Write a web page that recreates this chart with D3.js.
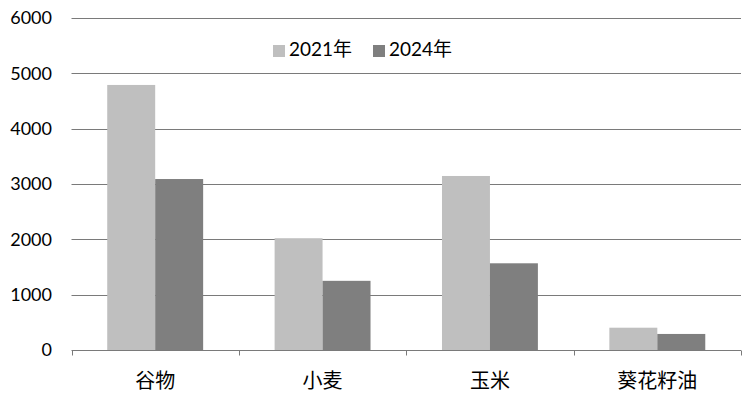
<!DOCTYPE html>
<html><head><meta charset="utf-8">
<script src="https://cdn.jsdelivr.net/npm/d3@7"></script>
<style>body{margin:0;background:#fff}</style>
</head><body>
<svg id="c" width="751" height="400"></svg>
<script>
const categories = ["谷物", "小麦", "玉米", "葵花籽油"];
const seriesNames = ["2021年", "2024年"];
const values2021 = [4790, 2020, 3145, 403];
const values2024 = [3090, 1250, 1567, 290];
const yTicks = [0, 1000, 2000, 3000, 4000, 5000, 6000];
const colors = ["#bfbfbf", "#7f7f7f"];

const svg = d3.select("#c");
const m = {l: 71.5, r: 10, t: 18, b: 50};
const x0 = d3.scaleBand().domain(categories).range([m.l, 741]).paddingInner(0).paddingOuter(0);
const x1 = d3.scaleBand().domain(seriesNames).range([0, x0.bandwidth()]).paddingInner(0).paddingOuter(0.745);
const y = d3.scaleLinear().domain([0, 6000]).range([350, 18]);

// gridlines
svg.append("g").selectAll("line").data(yTicks.filter(d => d > 0)).join("line")
  .attr("x1", m.l).attr("x2", 741).attr("y1", d => Math.round(y(d)) + 0.5).attr("y2", d => Math.round(y(d)) + 0.5)
  .attr("stroke", "#7a7a7a").attr("stroke-width", 1);

// y labels
svg.append("g").selectAll("text").data(yTicks).join("text")
  .attr("x", 52).attr("y", d => y(d)).attr("dy", "0.36em").attr("text-anchor", "end")
  .attr("font-family", "Lato, 'Open Sans', sans-serif").attr("font-size", 18).attr("fill", "#000")
  .text(d => d);

// bars
const data = categories.map((c, i) => ({c, vals: [values2021[i], values2024[i]]}));
const g = svg.append("g");
data.forEach(d => {
  d.vals.forEach((v, j) => {
    g.append("rect")
      .attr("x", x0(d.c) + x1(seriesNames[j]))
      .attr("width", x1.bandwidth())
      .attr("y", y(v)).attr("height", y(0) - y(v))
      .attr("fill", colors[j]);
  });
});

// x axis
const xa = svg.append("g").attr("transform", "translate(0,350.5)");
xa.append("line").attr("x1", m.l).attr("x2", 741).attr("stroke", "#7a7a7a");
const ticks = categories.map(c => x0(c)).concat([741]);
xa.selectAll("line.t").data(ticks).join("line").attr("class", "t")
  .attr("x1", d => Math.round(d) + 0.5).attr("x2", d => Math.round(d) + 0.5).attr("y1", 0).attr("y2", 5)
  .attr("stroke", "#7a7a7a");
svg.append("g").selectAll("text").data(categories).join("text")
  .attr("x", d => x0(d) + x0.bandwidth() / 2).attr("y", 381).attr("dy", "0.36em")
  .attr("text-anchor", "middle").attr("font-family", "'Noto Sans CJK SC', sans-serif")
  .attr("font-size", 20).attr("fill", "#000").text(d => d);

// legend
const leg = svg.append("g");
const lx = [273, 373];
seriesNames.forEach((s, j) => {
  leg.append("rect").attr("x", lx[j]).attr("y", 45).attr("width", 12).attr("height", 12).attr("fill", colors[j]);
  leg.append("text").attr("x", lx[j] + 16).attr("y", 49).attr("dy", "0.36em")
    .attr("font-family", "Lato, 'Noto Sans CJK SC', sans-serif").attr("font-size", 19).attr("fill", "#000")
    .text(s);
});
</script>
</body></html>
